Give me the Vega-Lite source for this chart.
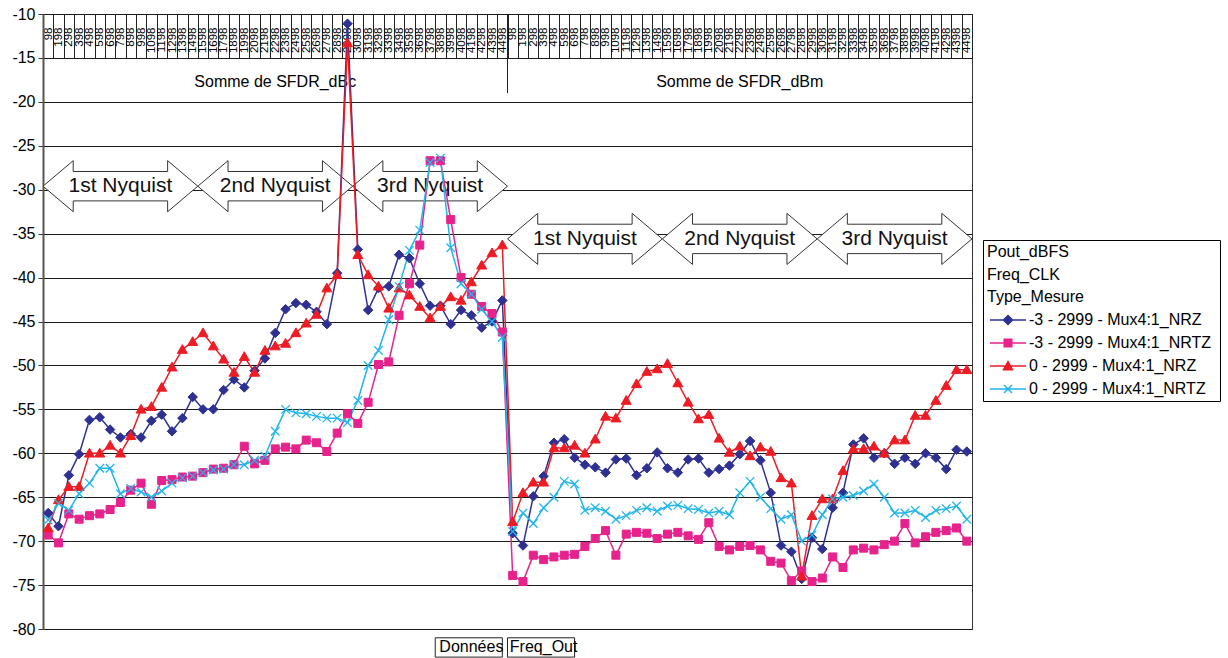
{
"$schema": "https://vega.github.io/schema/vega-lite/v6.json",
"width": 929, "height": 615,
"autosize": "none",
"padding": {"left": 43, "top": 14, "right": 256, "bottom": 29},
"background": "white",
"config": {"font": "Liberation Sans", "view": {"stroke": "#333", "strokeWidth": 1}},
"datasets": {
"main": [
{"i":0,"cat":"dBc|98","n3_NRZ":-66.8,"n3_NRTZ":-69.3,"p0_NRZ":-68.5,"p0_NRTZ":-67.6},
{"i":1,"cat":"dBc|198","n3_NRZ":-68.3,"n3_NRTZ":-70.2,"p0_NRZ":-65.3,"p0_NRTZ":-65.7},
{"i":2,"cat":"dBc|298","n3_NRZ":-62.5,"n3_NRTZ":-66.9,"p0_NRZ":-63.8,"p0_NRTZ":-66.5},
{"i":3,"cat":"dBc|398","n3_NRZ":-60.1,"n3_NRTZ":-67.5,"p0_NRZ":-63.8,"p0_NRTZ":-64.6},
{"i":4,"cat":"dBc|498","n3_NRZ":-56.2,"n3_NRTZ":-67.1,"p0_NRZ":-60.0,"p0_NRTZ":-63.4},
{"i":5,"cat":"dBc|598","n3_NRZ":-55.9,"n3_NRTZ":-66.9,"p0_NRZ":-60.0,"p0_NRTZ":-61.7},
{"i":6,"cat":"dBc|698","n3_NRZ":-57.3,"n3_NRTZ":-66.4,"p0_NRZ":-59.1,"p0_NRTZ":-61.7},
{"i":7,"cat":"dBc|798","n3_NRZ":-58.2,"n3_NRTZ":-65.6,"p0_NRZ":-60.0,"p0_NRTZ":-64.6},
{"i":8,"cat":"dBc|898","n3_NRZ":-57.8,"n3_NRTZ":-64.2,"p0_NRZ":-58.0,"p0_NRTZ":-64.0},
{"i":9,"cat":"dBc|998","n3_NRZ":-58.2,"n3_NRTZ":-63.4,"p0_NRZ":-55.0,"p0_NRTZ":-64.4},
{"i":10,"cat":"dBc|1098","n3_NRZ":-56.3,"n3_NRTZ":-65.8,"p0_NRZ":-54.7,"p0_NRTZ":-65.0},
{"i":11,"cat":"dBc|1198","n3_NRZ":-55.6,"n3_NRTZ":-63.1,"p0_NRZ":-52.5,"p0_NRTZ":-64.3},
{"i":12,"cat":"dBc|1298","n3_NRZ":-57.5,"n3_NRTZ":-63.0,"p0_NRZ":-50.2,"p0_NRTZ":-63.4},
{"i":13,"cat":"dBc|1398","n3_NRZ":-56.0,"n3_NRTZ":-62.7,"p0_NRZ":-48.2,"p0_NRTZ":-62.8},
{"i":14,"cat":"dBc|1498","n3_NRZ":-53.6,"n3_NRTZ":-62.6,"p0_NRZ":-47.3,"p0_NRTZ":-62.6},
{"i":15,"cat":"dBc|1598","n3_NRZ":-55.0,"n3_NRTZ":-62.2,"p0_NRZ":-46.3,"p0_NRTZ":-62.2},
{"i":16,"cat":"dBc|1698","n3_NRZ":-55.0,"n3_NRTZ":-61.8,"p0_NRZ":-47.8,"p0_NRTZ":-61.9},
{"i":17,"cat":"dBc|1798","n3_NRZ":-52.8,"n3_NRTZ":-61.7,"p0_NRZ":-49.3,"p0_NRTZ":-61.8},
{"i":18,"cat":"dBc|1898","n3_NRZ":-51.6,"n3_NRTZ":-61.3,"p0_NRZ":-50.8,"p0_NRTZ":-61.3},
{"i":19,"cat":"dBc|1998","n3_NRZ":-52.5,"n3_NRTZ":-59.2,"p0_NRZ":-49.0,"p0_NRTZ":-61.3},
{"i":20,"cat":"dBc|2098","n3_NRZ":-50.6,"n3_NRTZ":-61.2,"p0_NRZ":-50.8,"p0_NRTZ":-60.8},
{"i":21,"cat":"dBc|2198","n3_NRZ":-49.2,"n3_NRTZ":-60.8,"p0_NRZ":-48.3,"p0_NRTZ":-60.3},
{"i":22,"cat":"dBc|2298","n3_NRZ":-46.3,"n3_NRTZ":-59.5,"p0_NRZ":-47.8,"p0_NRTZ":-57.5},
{"i":23,"cat":"dBc|2398","n3_NRZ":-43.6,"n3_NRTZ":-59.3,"p0_NRZ":-47.5,"p0_NRTZ":-55.0},
{"i":24,"cat":"dBc|2498","n3_NRZ":-42.9,"n3_NRTZ":-59.5,"p0_NRZ":-46.3,"p0_NRTZ":-55.4},
{"i":25,"cat":"dBc|2598","n3_NRZ":-43.1,"n3_NRTZ":-58.5,"p0_NRZ":-45.2,"p0_NRTZ":-55.5},
{"i":26,"cat":"dBc|2698","n3_NRZ":-43.9,"n3_NRTZ":-58.8,"p0_NRZ":-44.2,"p0_NRTZ":-55.8},
{"i":27,"cat":"dBc|2798","n3_NRZ":-45.3,"n3_NRTZ":-59.8,"p0_NRZ":-41.2,"p0_NRTZ":-56.0},
{"i":28,"cat":"dBc|2898","n3_NRZ":-39.5,"n3_NRTZ":-57.7,"p0_NRZ":-39.7,"p0_NRTZ":-56.0},
{"i":29,"cat":"dBc|2998","n3_NRZ":-11.1,"n3_NRTZ":-55.5,"p0_NRZ":-13.3,"p0_NRTZ":-56.5},
{"i":30,"cat":"dBc|3098","n3_NRZ":-36.8,"n3_NRTZ":-56.6,"p0_NRZ":-37.4,"p0_NRTZ":-54.0},
{"i":31,"cat":"dBc|3198","n3_NRZ":-43.7,"n3_NRTZ":-54.2,"p0_NRZ":-39.7,"p0_NRTZ":-50.0},
{"i":32,"cat":"dBc|3298","n3_NRZ":-41.2,"n3_NRTZ":-49.9,"p0_NRZ":-41.0,"p0_NRTZ":-48.3},
{"i":33,"cat":"dBc|3398","n3_NRZ":-41.0,"n3_NRTZ":-49.6,"p0_NRZ":-43.5,"p0_NRTZ":-44.8},
{"i":34,"cat":"dBc|3498","n3_NRZ":-37.4,"n3_NRTZ":-44.3,"p0_NRZ":-41.2,"p0_NRTZ":-41.0},
{"i":35,"cat":"dBc|3598","n3_NRZ":-37.8,"n3_NRTZ":-40.7,"p0_NRZ":-42.0,"p0_NRTZ":-36.9},
{"i":36,"cat":"dBc|3698","n3_NRZ":-40.7,"n3_NRTZ":-36.3,"p0_NRZ":-43.3,"p0_NRTZ":-34.6},
{"i":37,"cat":"dBc|3798","n3_NRZ":-43.2,"n3_NRTZ":-26.7,"p0_NRZ":-44.6,"p0_NRTZ":-26.9},
{"i":38,"cat":"dBc|3898","n3_NRZ":-43.2,"n3_NRTZ":-26.7,"p0_NRZ":-43.3,"p0_NRTZ":-26.4},
{"i":39,"cat":"dBc|3998","n3_NRZ":-45.3,"n3_NRTZ":-33.4,"p0_NRZ":-42.2,"p0_NRTZ":-36.6},
{"i":40,"cat":"dBc|4098","n3_NRZ":-43.7,"n3_NRTZ":-40.0,"p0_NRZ":-42.6,"p0_NRTZ":-40.7},
{"i":41,"cat":"dBc|4198","n3_NRZ":-44.3,"n3_NRTZ":-41.9,"p0_NRZ":-40.5,"p0_NRTZ":-41.9},
{"i":42,"cat":"dBc|4298","n3_NRZ":-45.7,"n3_NRTZ":-43.3,"p0_NRZ":-38.6,"p0_NRTZ":-43.6},
{"i":43,"cat":"dBc|4398","n3_NRZ":-45.0,"n3_NRTZ":-44.1,"p0_NRZ":-37.2,"p0_NRTZ":-45.0},
{"i":44,"cat":"dBc|4498","n3_NRZ":-42.6,"n3_NRTZ":-46.2,"p0_NRZ":-36.3,"p0_NRTZ":-46.8},
{"i":45,"cat":"dBm|98","n3_NRZ":-69.1,"n3_NRTZ":-73.9,"p0_NRZ":-67.8,"p0_NRTZ":-68.9},
{"i":46,"cat":"dBm|198","n3_NRZ":-70.5,"n3_NRTZ":-74.6,"p0_NRZ":-64.5,"p0_NRTZ":-66.8},
{"i":47,"cat":"dBm|298","n3_NRZ":-64.9,"n3_NRTZ":-71.6,"p0_NRZ":-63.3,"p0_NRTZ":-68.0},
{"i":48,"cat":"dBm|398","n3_NRZ":-62.6,"n3_NRTZ":-72.1,"p0_NRZ":-63.3,"p0_NRTZ":-66.2},
{"i":49,"cat":"dBm|498","n3_NRZ":-58.8,"n3_NRTZ":-71.8,"p0_NRZ":-59.4,"p0_NRTZ":-65.0},
{"i":50,"cat":"dBm|598","n3_NRZ":-58.4,"n3_NRTZ":-71.6,"p0_NRZ":-59.4,"p0_NRTZ":-63.2},
{"i":51,"cat":"dBm|698","n3_NRZ":-60.5,"n3_NRTZ":-71.5,"p0_NRZ":-59.1,"p0_NRTZ":-63.5},
{"i":52,"cat":"dBm|798","n3_NRZ":-61.3,"n3_NRTZ":-70.6,"p0_NRZ":-60.0,"p0_NRTZ":-66.5},
{"i":53,"cat":"dBm|898","n3_NRZ":-61.6,"n3_NRTZ":-69.7,"p0_NRZ":-58.4,"p0_NRTZ":-66.2},
{"i":54,"cat":"dBm|998","n3_NRZ":-62.2,"n3_NRTZ":-68.8,"p0_NRZ":-55.8,"p0_NRTZ":-66.6},
{"i":55,"cat":"dBm|1098","n3_NRZ":-60.7,"n3_NRTZ":-71.6,"p0_NRZ":-56.0,"p0_NRTZ":-67.5},
{"i":56,"cat":"dBm|1198","n3_NRZ":-60.6,"n3_NRTZ":-69.2,"p0_NRZ":-54.0,"p0_NRTZ":-67.1},
{"i":57,"cat":"dBm|1298","n3_NRZ":-62.5,"n3_NRTZ":-69.0,"p0_NRZ":-52.1,"p0_NRTZ":-66.5},
{"i":58,"cat":"dBm|1398","n3_NRZ":-61.7,"n3_NRTZ":-69.1,"p0_NRZ":-50.7,"p0_NRTZ":-66.2},
{"i":59,"cat":"dBm|1498","n3_NRZ":-59.9,"n3_NRTZ":-69.7,"p0_NRZ":-50.4,"p0_NRTZ":-66.6},
{"i":60,"cat":"dBm|1598","n3_NRZ":-61.7,"n3_NRTZ":-69.2,"p0_NRZ":-49.8,"p0_NRTZ":-66.0},
{"i":61,"cat":"dBm|1698","n3_NRZ":-62.2,"n3_NRTZ":-69.0,"p0_NRZ":-52.0,"p0_NRTZ":-65.9},
{"i":62,"cat":"dBm|1798","n3_NRZ":-60.7,"n3_NRTZ":-69.4,"p0_NRZ":-54.2,"p0_NRTZ":-66.3},
{"i":63,"cat":"dBm|1898","n3_NRZ":-60.6,"n3_NRTZ":-69.8,"p0_NRZ":-56.1,"p0_NRTZ":-66.4},
{"i":64,"cat":"dBm|1998","n3_NRZ":-62.2,"n3_NRTZ":-67.9,"p0_NRZ":-55.6,"p0_NRTZ":-66.8},
{"i":65,"cat":"dBm|2098","n3_NRZ":-61.8,"n3_NRTZ":-70.6,"p0_NRZ":-58.3,"p0_NRTZ":-66.6},
{"i":66,"cat":"dBm|2198","n3_NRZ":-61.4,"n3_NRTZ":-71.0,"p0_NRZ":-59.9,"p0_NRTZ":-67.0},
{"i":67,"cat":"dBm|2298","n3_NRZ":-60.1,"n3_NRTZ":-70.6,"p0_NRZ":-59.2,"p0_NRTZ":-64.5},
{"i":68,"cat":"dBm|2398","n3_NRZ":-58.6,"n3_NRTZ":-70.5,"p0_NRZ":-60.3,"p0_NRTZ":-63.2},
{"i":69,"cat":"dBm|2498","n3_NRZ":-60.8,"n3_NRTZ":-71.0,"p0_NRZ":-59.3,"p0_NRTZ":-65.0},
{"i":70,"cat":"dBm|2598","n3_NRZ":-64.5,"n3_NRTZ":-72.3,"p0_NRZ":-59.8,"p0_NRTZ":-66.3},
{"i":71,"cat":"dBm|2698","n3_NRZ":-70.5,"n3_NRTZ":-72.5,"p0_NRZ":-62.8,"p0_NRTZ":-67.5},
{"i":72,"cat":"dBm|2798","n3_NRZ":-71.2,"n3_NRTZ":-74.5,"p0_NRZ":-63.4,"p0_NRTZ":-67.0},
{"i":73,"cat":"dBm|2898","n3_NRZ":-74.3,"n3_NRTZ":-73.4,"p0_NRZ":-74.0,"p0_NRTZ":-70.0},
{"i":74,"cat":"dBm|2998","n3_NRZ":-69.6,"n3_NRTZ":-74.6,"p0_NRZ":-67.1,"p0_NRTZ":-69.3},
{"i":75,"cat":"dBm|3098","n3_NRZ":-70.9,"n3_NRTZ":-74.2,"p0_NRZ":-65.2,"p0_NRTZ":-67.0},
{"i":76,"cat":"dBm|3198","n3_NRZ":-66.2,"n3_NRTZ":-71.8,"p0_NRZ":-65.2,"p0_NRTZ":-65.2},
{"i":77,"cat":"dBm|3298","n3_NRZ":-64.5,"n3_NRTZ":-73.0,"p0_NRZ":-62.0,"p0_NRTZ":-65.0},
{"i":78,"cat":"dBm|3398","n3_NRZ":-59.0,"n3_NRTZ":-71.0,"p0_NRZ":-59.5,"p0_NRTZ":-64.8},
{"i":79,"cat":"dBm|3498","n3_NRZ":-58.3,"n3_NRTZ":-70.8,"p0_NRZ":-59.5,"p0_NRTZ":-64.3},
{"i":80,"cat":"dBm|3598","n3_NRZ":-60.5,"n3_NRTZ":-71.0,"p0_NRZ":-59.2,"p0_NRTZ":-63.5},
{"i":81,"cat":"dBm|3698","n3_NRZ":-60.0,"n3_NRTZ":-70.4,"p0_NRZ":-60.0,"p0_NRTZ":-65.0},
{"i":82,"cat":"dBm|3798","n3_NRZ":-61.2,"n3_NRTZ":-70.0,"p0_NRZ":-58.5,"p0_NRTZ":-66.8},
{"i":83,"cat":"dBm|3898","n3_NRZ":-60.5,"n3_NRTZ":-68.0,"p0_NRZ":-58.5,"p0_NRTZ":-66.8},
{"i":84,"cat":"dBm|3998","n3_NRZ":-61.2,"n3_NRTZ":-70.2,"p0_NRZ":-55.7,"p0_NRTZ":-66.5},
{"i":85,"cat":"dBm|4098","n3_NRZ":-60.0,"n3_NRTZ":-69.5,"p0_NRZ":-55.7,"p0_NRTZ":-67.3},
{"i":86,"cat":"dBm|4198","n3_NRZ":-60.5,"n3_NRTZ":-69.0,"p0_NRZ":-54.0,"p0_NRTZ":-66.5},
{"i":87,"cat":"dBm|4298","n3_NRZ":-61.8,"n3_NRTZ":-68.8,"p0_NRZ":-52.3,"p0_NRTZ":-66.3},
{"i":88,"cat":"dBm|4398","n3_NRZ":-59.6,"n3_NRTZ":-68.5,"p0_NRZ":-50.5,"p0_NRTZ":-66.0},
{"i":89,"cat":"dBm|4498","n3_NRZ":-59.8,"n3_NRTZ":-70.0,"p0_NRZ":-50.5,"p0_NRTZ":-67.5}
],
"nyq": [
{"cat":"dBc|798","lvl":-29.6,"label":"1st Nyquist"},
{"cat":"dBc|2298","lvl":-29.6,"label":"2nd Nyquist"},
{"cat":"dBc|3798","lvl":-29.6,"label":"3rd Nyquist"},
{"cat":"dBm|798","lvl":-35.6,"label":"1st Nyquist"},
{"cat":"dBm|2298","lvl":-35.6,"label":"2nd Nyquist"},
{"cat":"dBm|3798","lvl":-35.6,"label":"3rd Nyquist"}
],
"groups": [
{"cat":"dBc|2298","label":"Somme de SFDR_dBc"},
{"cat":"dBm|2298","label":"Somme de SFDR_dBm"}
],
"sep": [{"cat":"dBm|98"}],
"footer": [
{"c1":"dBc|3898","c2":"dBc|4498","cat":"dBc|4198","label":"Données"},
{"c1":"dBm|98","c2":"dBm|698","cat":"dBm|398","label":"Freq_Out"}
]
},
"encoding": {
"x": {"field": "cat", "type": "ordinal",
 "scale": {"type": "band", "paddingInner": 0, "paddingOuter": 0,
  "domain": ["dBc|98","dBc|198","dBc|298","dBc|398","dBc|498","dBc|598","dBc|698","dBc|798","dBc|898","dBc|998","dBc|1098","dBc|1198","dBc|1298","dBc|1398","dBc|1498","dBc|1598","dBc|1698","dBc|1798","dBc|1898","dBc|1998","dBc|2098","dBc|2198","dBc|2298","dBc|2398","dBc|2498","dBc|2598","dBc|2698","dBc|2798","dBc|2898","dBc|2998","dBc|3098","dBc|3198","dBc|3298","dBc|3398","dBc|3498","dBc|3598","dBc|3698","dBc|3798","dBc|3898","dBc|3998","dBc|4098","dBc|4198","dBc|4298","dBc|4398","dBc|4498","dBm|98","dBm|198","dBm|298","dBm|398","dBm|498","dBm|598","dBm|698","dBm|798","dBm|898","dBm|998","dBm|1098","dBm|1198","dBm|1298","dBm|1398","dBm|1498","dBm|1598","dBm|1698","dBm|1798","dBm|1898","dBm|1998","dBm|2098","dBm|2198","dBm|2298","dBm|2398","dBm|2498","dBm|2598","dBm|2698","dBm|2798","dBm|2898","dBm|2998","dBm|3098","dBm|3198","dBm|3298","dBm|3398","dBm|3498","dBm|3598","dBm|3698","dBm|3798","dBm|3898","dBm|3998","dBm|4098","dBm|4198","dBm|4298","dBm|4398","dBm|4498"]},
 "axis": {"orient": "top", "title": null, "offset": -44, "domain": false, "grid": false, "ticks": true, "tickBand": "extent", "tickSize": 44, "tickColor": "#222", "tickWidth": 1, "labelAngle": -90, "labelAlign": "right", "labelBaseline": "middle", "labelPadding": -13, "labelFontSize": 11.5, "labelColor": "black", "labelOverlap": false, "labelBound": false, "labelFlush": false, "labelLimit": 100, "labelExpr": "split(datum.label, '|')[1]"}}
},
"layer": [
{"data": {"name": "nyq"},
 "encoding": {"y": {"field": "lvl", "type": "quantitative", "scale": {"domain": [-80, -10], "nice": false, "zero": false}}},
 "layer": [
  {"mark": {"type": "point", "shape": "M -1 0 L -0.61 -0.33 L -0.61 -0.19 L 0.61 -0.19 L 0.61 -0.33 L 1 0 L 0.61 0.33 L 0.61 0.19 L -0.61 0.19 L -0.61 0.33 Z", "size": 23960, "filled": true, "fill": "white", "stroke": "#333", "strokeWidth": 1, "opacity": 1}},
  {"mark": {"type": "text", "fontSize": 21, "color": "#111", "baseline": "middle", "align": "center"}, "encoding": {"text": {"field": "label"}}}
 ]},
{"data": {"name": "groups"},
 "mark": {"type": "text", "fontSize": 16, "baseline": "middle", "align": "center", "color": "black"},
 "encoding": {"y": {"datum": -17.7, "type": "quantitative", "scale": {"domain": [-80, -10], "nice": false, "zero": false}}, "text": {"field": "label"}}},
{"data": {"name": "sep"},
 "mark": {"type": "rule", "color": "#222", "strokeWidth": 1},
 "encoding": {"x": {"field": "cat", "type": "ordinal", "bandPosition": 0}, "y": {"datum": -10, "type": "quantitative", "scale": {"domain": [-80, -10], "nice": false, "zero": false}}, "y2": {"datum": -19}}},
{"data": {"name": "main"},
 "transform": [{"fold": ["n3_NRZ", "n3_NRTZ", "p0_NRZ", "p0_NRTZ"], "as": ["series", "value"]}],
 "encoding": {
  "y": {"field": "value", "type": "quantitative",
   "scale": {"domain": [-80, -10], "nice": false, "zero": false},
   "axis": {"title": null, "values": [-80,-75,-70,-65,-60,-55,-50,-45,-40,-35,-30,-25,-20,-15,-10], "grid": true, "gridColor": "#1a1a1a", "gridWidth": 1, "domainColor": "#555", "domainWidth": 2, "tickColor": "#333", "tickSize": 5, "labelFontSize": 16, "labelColor": "black", "labelPadding": 3, "labelExpr": "'' + datum.value"}},
  "color": {"field": "series", "type": "nominal",
  "scale": {"domain": ["n3_NRZ", "n3_NRTZ", "p0_NRZ", "p0_NRTZ"], "range": ["#2E3192", "#E6228C", "#ED1C24", "#22B5EA"]},
  "legend": {"orient": "none", "legendX": 940, "legendY": 226,
   "title": ["Pout_dBFS", "Freq_CLK", "Type_Mesure"],
   "titleFontSize": 16, "titleFontWeight": "normal", "titleColor": "black", "titleLineHeight": 22.5, "titlePadding": 4,
   "labelFontSize": 16, "labelColor": "black", "labelLimit": 400, "labelOffset": 10,
   "symbolSize": 400, "symbolOffset": 10, "rowPadding": 4, "padding": 4,
   "strokeColor": "black", "fillColor": "white",
   "labelExpr": "datum.label == 'n3_NRZ' ? '-3 - 2999 -  Mux4:1_NRZ' : datum.label == 'n3_NRTZ' ? '-3 - 2999 -  Mux4:1_NRTZ' : datum.label == 'p0_NRZ' ? '0 - 2999 -  Mux4:1_NRZ' : '0 - 2999 -  Mux4:1_NRTZ'",
   "encode": {"symbols": {"update": {
     "shape": {"signal": "datum.value == 'n3_NRZ' ? 'M -1.8 0 L 1.8 0 M 0 -0.45 L 0.45 0 L 0 0.45 L -0.45 0 Z' : datum.value == 'n3_NRTZ' ? 'M -1.8 0 L 1.8 0 M -0.38 -0.38 L 0.38 -0.38 L 0.38 0.38 L -0.38 0.38 Z' : datum.value == 'p0_NRZ' ? 'M -1.8 0 L 1.8 0 M 0 -0.45 L 0.45 0.38 L -0.45 0.38 Z' : 'M -1.8 0 L 1.8 0 M -0.4 -0.4 L 0.4 0.4 M -0.4 0.4 L 0.4 -0.4'"},
     "fill": {"signal": "datum.value == 'n3_NRZ' ? '#2E3192' : datum.value == 'n3_NRTZ' ? '#E6228C' : datum.value == 'p0_NRZ' ? '#ED1C24' : 'transparent'"},
     "stroke": {"signal": "datum.value == 'n3_NRZ' ? '#2E3192' : datum.value == 'n3_NRTZ' ? '#E6228C' : datum.value == 'p0_NRZ' ? '#ED1C24' : '#22B5EA'"},
     "strokeWidth": {"value": 1.5}, "opacity": {"value": 1}, "fillOpacity": {"value": 1}, "strokeOpacity": {"value": 1}}}}
  }}},
 "layer": [
  {"mark": {"type": "line", "strokeWidth": 1.5}, "encoding": {"order": {"field": "i", "type": "quantitative"}}},
  {"transform": [{"filter": "datum.series == 'n3_NRZ'"}],
   "mark": {"type": "point", "filled": true, "size": 100, "opacity": 1, "shape": "M 0 -0.95 L 0.95 0 L 0 0.95 L -0.95 0 Z", "stroke": "#2E3192", "strokeWidth": 1}},
  {"transform": [{"filter": "datum.series == 'n3_NRTZ'"}],
   "mark": {"type": "point", "filled": true, "size": 100, "opacity": 1, "shape": "M -0.8 -0.8 L 0.8 -0.8 L 0.8 0.8 L -0.8 0.8 Z", "stroke": "#E6228C", "strokeWidth": 1}},
  {"transform": [{"filter": "datum.series == 'p0_NRZ'"}],
   "mark": {"type": "point", "filled": true, "size": 100, "opacity": 1, "shape": "M 0 -1 L 1 0.75 L -1 0.75 Z", "stroke": "#ED1C24", "strokeWidth": 1}},
  {"transform": [{"filter": "datum.series == 'p0_NRTZ'"}],
   "mark": {"type": "point", "filled": true, "size": 100, "opacity": 1, "shape": "M -0.85 -0.85 L 0.85 0.85 M -0.85 0.85 L 0.85 -0.85", "stroke": "#22B5EA", "strokeWidth": 1.3}}
 ]},
{"data": {"name": "footer"},
 "layer": [
  {"mark": {"type": "rect", "fill": "white", "stroke": "#222", "strokeWidth": 1},
   "encoding": {"x": {"field": "c1", "type": "ordinal", "bandPosition": 0}, "x2": {"field": "c2"}, "y": {"datum": -81.0, "type": "quantitative", "scale": {"domain": [-80, -10], "nice": false, "zero": false}}, "y2": {"datum": -83.2}}},
  {"mark": {"type": "text", "fontSize": 16, "align": "center", "baseline": "middle", "color": "black"},
   "encoding": {"y": {"datum": -82.1, "type": "quantitative", "scale": {"domain": [-80, -10], "nice": false, "zero": false}}, "text": {"field": "label"}}}
 ]}
]
}
